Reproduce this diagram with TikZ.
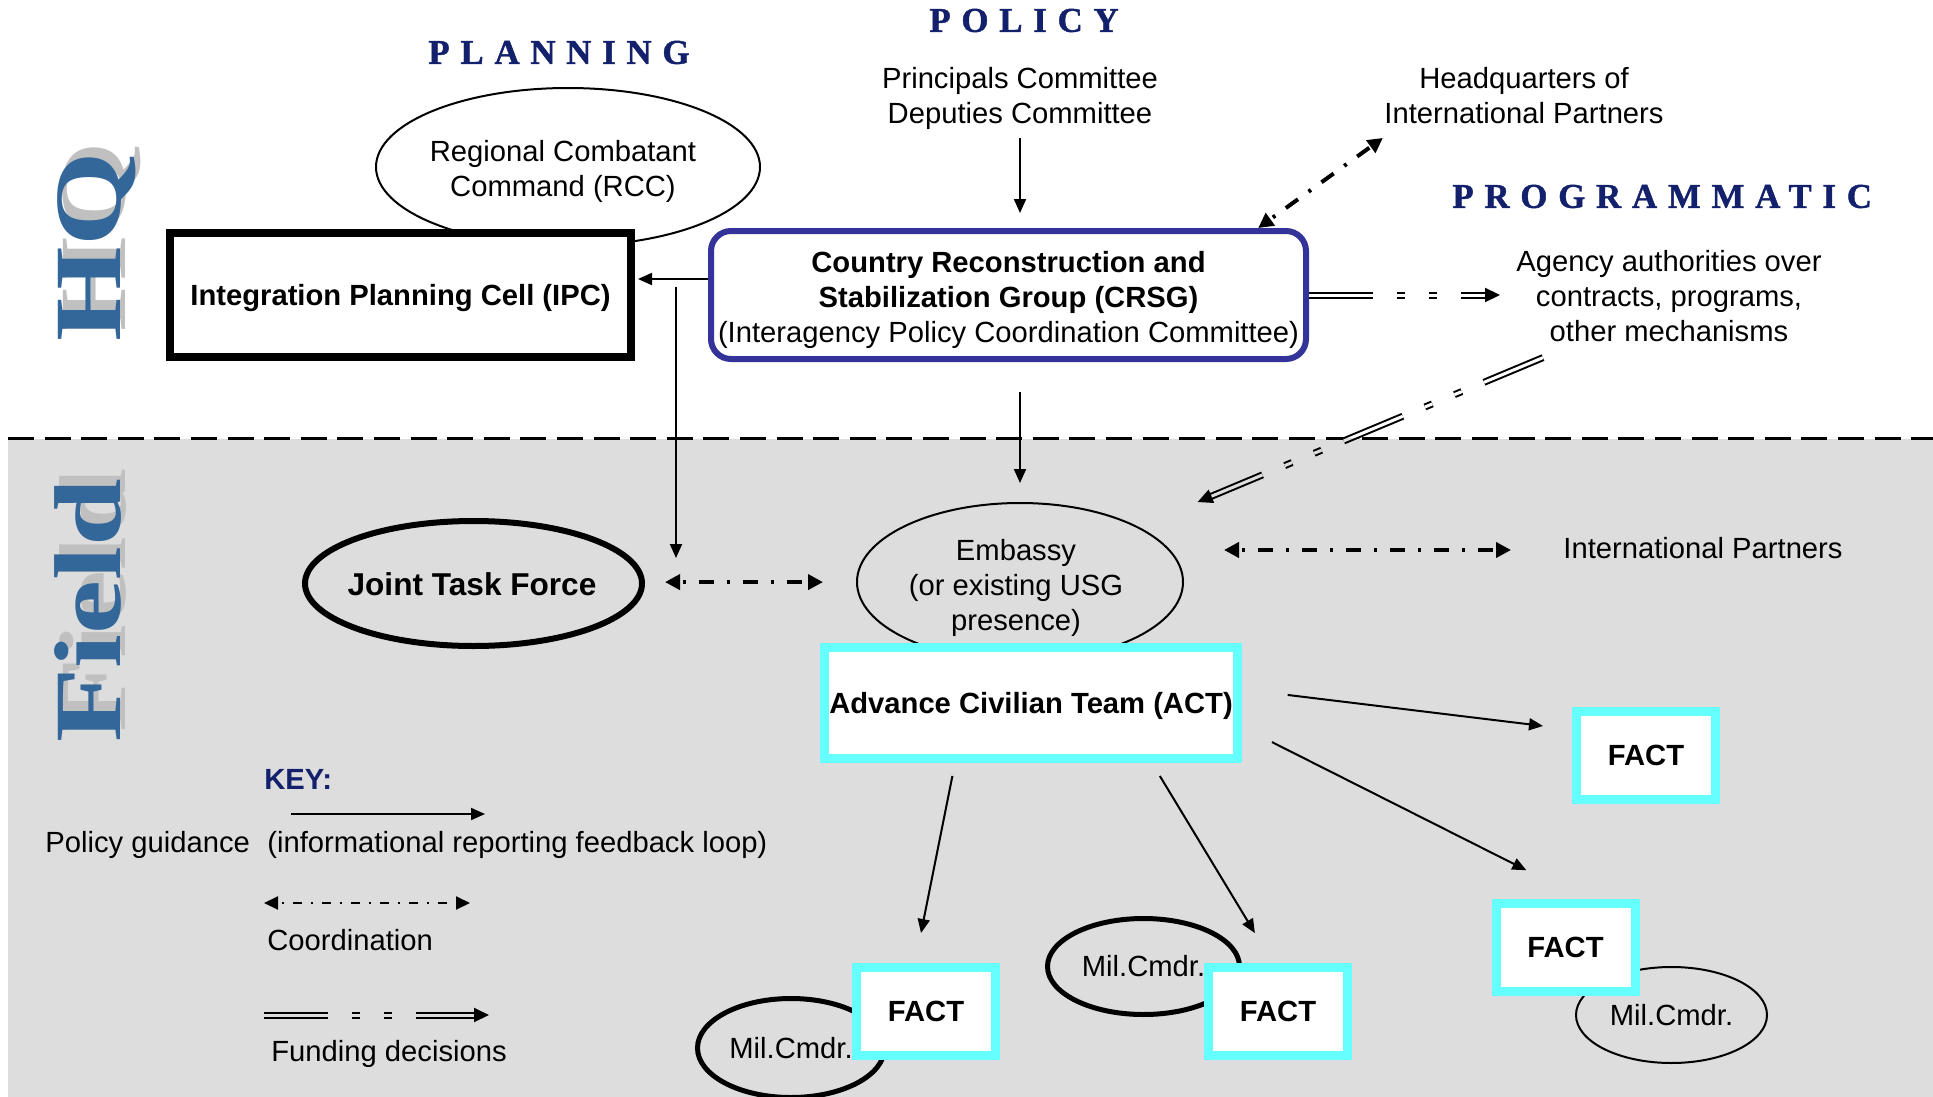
\documentclass[tikz,border=0pt]{standalone}
\usepackage{fontspec}
\setmainfont{Liberation Sans}
\newfontfamily\hqfont{Liberation Serif}
\newfontfamily\ttlfont{Liberation Serif}[LetterSpace=31,FakeBold=1.2]
\usetikzlibrary{arrows.meta,calc,shapes.geometric}
\definecolor{bggrey}{HTML}{DDDDDD}
\definecolor{navyt}{HTML}{13206B}
\definecolor{crsgblue}{HTML}{333399}
\definecolor{cyanb}{HTML}{66FFFF}
\definecolor{hqblue}{HTML}{336699}
\definecolor{hqshadow}{HTML}{C0C0C0}
\newcommand\tf{\fontsize{14.6}{17.5}\selectfont}
\begin{document}
\begin{tikzpicture}[x=0.5pt,y=-0.5pt,
  txt/.style={font=\tf, inner sep=0pt, align=center},
  ttl/.style={font=\ttlfont\bfseries\fontsize{17.4}{17.4}\selectfont, text=navyt, inner sep=0pt, anchor=west},
  hqtext/.style={anchor=base, rotate=90, xscale=1.28, inner sep=0pt, font=\hqfont\bfseries\fontsize{47.5}{47.5}\selectfont},
  ell/.style={ellipse, draw, line width=1pt, inner sep=0pt},
  milell/.style={ellipse, draw, inner sep=0pt, font=\tf},
  factbox/.style={rectangle, draw=cyanb, fill=white, line width=4.5pt, minimum width=69.5pt, minimum height=44pt, inner sep=0pt, font=\tf\bfseries},
  pol/.style={line width=1pt, -{Triangle[length=7pt,width=6pt]}},
  coo/.style={line width=2pt, dash pattern=on 1.5pt off 6.5pt on 7.5pt off 6.5pt, dash phase=20pt, {Triangle[length=7.5pt,width=7.5pt]}-{Triangle[length=7.5pt,width=7.5pt]}},
  cookey/.style={line width=1pt, dash pattern=on 1pt off 4.5pt on 4.5pt off 4.5pt, dash phase=12.5pt, {Triangle[length=7pt,width=6.5pt]}-{Triangle[length=7pt,width=6.5pt]}},
  fund/.style={double, line width=1pt, double distance=1.5pt, dash pattern=on 32pt off 12pt on 4pt off 12pt on 4pt off 12pt, -{Triangle[length=7.5pt,width=7pt]}},
  boundary/.style={line width=1.7pt, dash pattern=on 13pt off 5.3pt}
]
\useasboundingbox (0,0) rectangle (1933,1097);
\fill[bggrey] (8,438.5) rectangle (1933,1097);
\draw[boundary] (8,438.5) -- (1933,438.5);

% titles
\node[ttl] (tpolicy) at (929,20.5) {POLICY};
\node[ttl] (tplanning) at (428,52.5) {PLANNING};
\node[ttl] (tprog) at (1452,196.5) {PROGRAMMATIC};

% HQ / Field
\node[hqtext, text=hqshadow] (hqsh) at (125,237) {HQ};
\node[hqtext, text=hqblue] (hq) at (120,247) {HQ};
\node[hqtext, text=hqshadow] (fieldsh) at (125,601) {Field};
\node[hqtext, text=hqblue] (field) at (120,611) {Field};

% HQ level
\node[txt] (princ) at (1020,98) {Principals Committee\\Deputies Committee};
\node[txt] (hqp) at (1524,95.5) {Headquarters of\\International Partners};
\node[ell, fill=white, minimum width=192pt, minimum height=79pt] (rcc) at (568,167) {};
\node[txt] (rcct) at (563,171) {Regional Combatant\\Command (RCC)};
\node[draw, line width=4pt, fill=white, minimum width=230.5pt, minimum height=62pt, inner sep=0pt, font=\tf\bfseries, text depth=0pt] (ipc) at (400.5,295) {Integration Planning Cell (IPC)};
\node[draw=crsgblue, line width=3pt, rounded corners=10pt, fill=white, minimum width=297.5pt, minimum height=64pt, inner sep=0pt] (crsg) at (1008.5,295) {};
\node[txt] (crsgt) at (1008.5,300) {\textbf{Country Reconstruction and}\\\textbf{Stabilization Group (CRSG)}\\(Interagency Policy Coordination Committee)};
\node[txt] (agency) at (1669,296.5) {Agency authorities over\\contracts, programs,\\other mechanisms};

% Field level
\node[ell, line width=3pt, minimum width=168.5pt, minimum height=62.5pt] (jtf) at (473.5,583.5) {};
\node[inner sep=0pt, font=\fontsize{15.8}{19}\selectfont\bfseries] (jtft) at (472,584) {Joint Task Force};
\node[ell, minimum width=163pt, minimum height=79pt] (emb) at (1020,582) {};
\node[txt] (embt) at (1016,588) {Embassy\\(or existing USG\\presence)};
\node[txt] (ip) at (1703,548) {International Partners};
\node[draw=cyanb, fill=white, line width=4.5pt, minimum width=206.5pt, minimum height=55.5pt, inner sep=0pt, font=\tf\bfseries, text depth=0pt] (act) at (1031,703) {Advance Civilian Team (ACT)};

\node[milell, line width=2.5pt, minimum width=93.5pt, minimum height=49.5pt] (mil1) at (791,1048) {Mil.Cmdr.};
\node[milell, line width=2.5pt, minimum width=96pt, minimum height=48pt] (mil2) at (1143.5,966.5) {Mil.Cmdr.};
\node[milell, line width=1pt, minimum width=95.5pt, minimum height=48pt] (mil3) at (1671.5,1015) {Mil.Cmdr.};

\node[factbox] (fact1) at (1646,755.5) {FACT};
\node[factbox] (fact2) at (1565.5,947.5) {FACT};
\node[factbox] (fact3) at (926,1011.5) {FACT};
\node[factbox] (fact4) at (1278,1011.5) {FACT};

% connectors
\draw[pol, shorten <=4pt, shorten >=7.5pt] (princ.south) -- (crsg.north -| princ.south);
\draw[pol, shorten >=1.5pt] ([yshift=8pt]crsg.west) -- ([yshift=8pt]ipc.east);
\coordinate (br1) at (676,287);
\coordinate (br2) at (676,558);
\draw[pol] (br1) -- (br2);
\draw[pol, shorten <=15pt, shorten >=9.5pt] (crsg.south -| emb.north) -- (emb.north);
\draw[coo, shorten >=11.8pt] ($(crsg.north west)!0.9155!(crsg.north east)$) -- ([xshift=9pt]hqp.south west);
\draw[coo, shorten <=10pt, shorten >=16.5pt] ([yshift=0.7pt]jtf.east) -- ([yshift=0.7pt]jtf.east -| emb.west);
\draw[coo, shorten <=20pt, shorten >=26pt] ([yshift=-1pt]ip.west -| emb.east) -- ([yshift=-1pt]ip.west);
\draw[fund, double=white, shorten >=8pt] (crsg.east) -- (crsg.east -| agency.west);
\begin{scope}
  \clip (0,0) rectangle (1933,438.5);
  \draw[fund, double=white, shorten >=32pt] ($(agency.south west)+(13.5pt,-7.5pt)$) -- (emb.25);
\end{scope}
\begin{scope}
  \clip (0,438.5) rectangle (1933,1097);
  \draw[fund, double=bggrey, shorten >=32pt] ($(agency.south west)+(13.5pt,-7.5pt)$) -- (emb.25);
\end{scope}
\draw[pol, shorten <=23pt, shorten >=14.6pt] ([yshift=6.8pt]act.east) -- ([yshift=13pt]fact1.west);
\draw[pol, shorten <=16.8pt, shorten >=32pt] ([yshift=-12pt]act.east) -- ([xshift=9pt]fact2.north);
\draw[pol, shorten <=6.6pt, shorten >=15.3pt] ([xshift=-38pt]act.south) -- ([xshift=-5.5pt]fact3.north);
\draw[pol, shorten <=7.6pt, shorten >=17.5pt] ([xshift=60.5pt]act.south) -- ([xshift=-2.5pt]fact4.north);

% key
\node[font=\tf\bfseries, text=navyt, inner sep=0pt, anchor=west] (key) at (264,779.5) {KEY:};
\coordinate (k1a) at (291,814);
\coordinate (k1b) at (485,814);
\draw[pol] (k1a) -- (k1b);
\node[font=\tf, inner sep=0pt, anchor=base west] (kpol) at (45,852) {Policy guidance};
\node[font=\tf, inner sep=0pt, anchor=base west] (kinfo) at (267,852) {(informational reporting feedback loop)};
\coordinate (k2a) at (264,903);
\coordinate (k2b) at (470,903);
\draw[cookey] (k2a) -- (k2b);
\node[font=\tf, inner sep=0pt, anchor=base west] (kcoo) at (267,950) {Coordination};
\coordinate (k3a) at (264,1015);
\coordinate (k3b) at (489,1015);
\draw[fund, double=bggrey] (k3a) -- (k3b);
\node[font=\tf, inner sep=0pt, anchor=base west] (kfund) at (271,1061) {Funding decisions};
\end{tikzpicture}
\end{document}
